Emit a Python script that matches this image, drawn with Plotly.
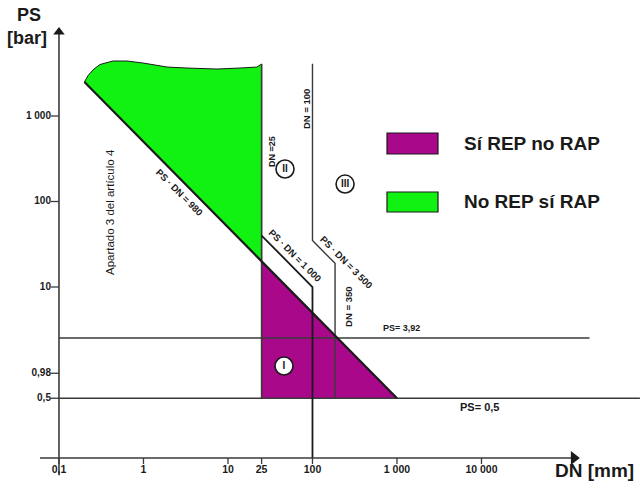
import numpy as np
import plotly.graph_objects as go

# ---------------- data (DN in mm, PS in bar) ----------------
dn_ticks = [0.1, 1, 10, 25, 100, 1000, 10000]
dn_tick_text = ["0,1", "1", "10", "25", "100", "1 000", "10 000"]
ps_ticks = [0.5, 0.98, 10, 100, 1000]
ps_tick_text = ["0,5", "0,98", "10", "100", "1 000"]

# Region "No REP sí RAP": wavy upper edge, then down the DN = 25 edge
green_dn = [0.2, 0.222, 0.26, 0.305, 0.435, 0.638, 0.986, 1.90, 3.27, 7.41, 13.9, 22.0, 25, 25]
green_ps = [2500, 3000, 3550, 4000, 4400, 4400, 4170, 3740, 3640, 3545, 3640, 3740, 4060, 20]

# Region "Sí REP no RAP"
magenta_dn = [25, 25, 1000]
magenta_ps = [20, 0.5, 0.5]

# Boundary lines
diag_dn = [0.2, 1000]
diag_ps = [2500, 0.5]
line1000_dn = [25, 100, 100]
line1000_ps = [40, 10, 0.1]
line3500_dn = [100, 100, 185, 185]
line3500_ps = [4100, 35, 18.9, 0.5]
dn25_dn = [25, 25]
dn25_ps = [4060, 0.5]
ps_mid_dn = [0.1, 1.9e5]
ps_mid_ps = [2.53, 2.53]
ps_low_dn = [0.1, 7.5e5]
ps_low_ps = [0.5, 0.5]

# Category markers (roman numerals in circles)
cat_dn = [46, 47.3, 243]
cat_ps = [1.19, 240, 160]
cat_text = ["I", "II", "III"]

GREEN = "#12F212"
MAGENTA = "#A9088A"
INK = "#1a1a1a"
LINE = "#3a3a3a"
FONT = "Arial, Liberation Sans, sans-serif"

X_RANGE = [-1.698, 5.876]
Y_RANGE = [-1.351, 4.357]


def lg(v):
    return float(np.log10(v))


fig = go.Figure()

# filled regions
fig.add_trace(go.Scatter(x=green_dn, y=green_ps, fill="toself", fillcolor=GREEN,
                         mode="lines", line=dict(color=INK, width=1), hoverinfo="skip"))
fig.add_trace(go.Scatter(x=magenta_dn, y=magenta_ps, fill="toself", fillcolor=MAGENTA,
                         mode="lines", line=dict(color=MAGENTA, width=0), hoverinfo="skip"))

# thin boundary lines
for xs, ys, w in [(ps_mid_dn, ps_mid_ps, 1.4), (ps_low_dn, ps_low_ps, 1.6),
                  (dn25_dn, dn25_ps, 1.6), (line3500_dn, line3500_ps, 1.4)]:
    fig.add_trace(go.Scatter(x=xs, y=ys, mode="lines",
                             line=dict(color=LINE, width=w), hoverinfo="skip"))

# heavier sloped boundaries
fig.add_trace(go.Scatter(x=diag_dn, y=diag_ps, mode="lines",
                         line=dict(color=INK, width=2.2), hoverinfo="skip"))
fig.add_trace(go.Scatter(x=line1000_dn, y=line1000_ps, mode="lines",
                         line=dict(color=INK, width=1.8), hoverinfo="skip"))

# axis lines
fig.add_trace(go.Scatter(x=[0.0596, 1.3e5], y=[0.1, 0.1], mode="lines",
                         line=dict(color=LINE, width=1.6), hoverinfo="skip"))
fig.add_trace(go.Scatter(x=[0.1, 0.1], y=[0.063, 9600], mode="lines",
                         line=dict(color=LINE, width=1.6), hoverinfo="skip"))
# arrow heads
fig.add_trace(go.Scatter(x=[1.24e5], y=[0.1], mode="markers",
                         marker=dict(symbol="triangle-right", size=12, color=INK),
                         hoverinfo="skip"))
fig.add_trace(go.Scatter(x=[0.1], y=[9600], mode="markers",
                         marker=dict(symbol="triangle-up", size=10, color=INK),
                         hoverinfo="skip"))

# tick marks
tx, ty = [], []
for v in dn_ticks:
    tx += [v, v, None]
    ty += [0.1, 0.085, None]
fig.add_trace(go.Scatter(x=tx, y=ty, mode="lines", line=dict(color=LINE, width=1.3),
                         hoverinfo="skip"))
sx, sy = [], []
for v in ps_ticks:
    sx += [0.0804, 0.1, None]
    sy += [v, v, None]
fig.add_trace(go.Scatter(x=sx, y=sy, mode="lines", line=dict(color=LINE, width=1.3),
                         hoverinfo="skip"))

# tick labels
fig.add_trace(go.Scatter(x=dn_ticks, y=[0.083] * len(dn_ticks), mode="text",
                         text=[f"<b>{t}</b>" for t in dn_tick_text],
                         textposition="bottom center",
                         textfont=dict(family=FONT, size=10.5, color=INK),
                         hoverinfo="skip"))
fig.add_trace(go.Scatter(x=[0.0804] * len(ps_ticks), y=ps_ticks, mode="text",
                         text=[f"<b>{t}</b>" for t in ps_tick_text],
                         textposition="middle left",
                         textfont=dict(family=FONT, size=10, color=INK),
                         hoverinfo="skip"))

# category circles
fig.add_trace(go.Scatter(x=cat_dn, y=cat_ps, mode="markers+text",
                         marker=dict(symbol="circle", size=18, color="white",
                                     line=dict(color=INK, width=1.6)),
                         text=[f"<b>{t}</b>" for t in cat_text],
                         textposition="middle center",
                         textfont=dict(family=FONT, size=10, color=INK),
                         hoverinfo="skip"))

annotations = []


def label(text, dn, ps, angle=0, size=9.5, bold=True):
    annotations.append(dict(
        x=lg(dn), y=lg(ps), xref="x", yref="y", showarrow=False,
        xanchor="center", yanchor="middle",
        text=f"<b>{text}</b>" if bold else text, textangle=angle,
        font=dict(family=FONT, size=size, color=INK)))


label("PS · DN = 980", 2.70, 129, angle=45)
label("PS · DN = 1 000", 62, 23.1, angle=45)
label("PS · DN = 3 500", 256, 19.6, angle=45)
label("DN =25", 33.2, 379, angle=-90, size=9)
label("DN = 100", 83.8, 1208, angle=-90)
label("DN = 350", 270, 5.84, angle=-90)
label("PS= 3,92", 1146, 3.31, size=9)
label("PS= 0,5", 9590, 0.395, size=11)
label("Apartado 3 del artículo 4", 0.402, 75.4, angle=-90, size=11.5, bold=False)

W, H = 640, 488


def px(x):
    return x / W


def py(y):
    return 1 - y / H


# axis titles
annotations.append(dict(x=px(29), y=py(15), xref="paper", yref="paper", showarrow=False,
                        xanchor="center", yanchor="middle",
                        text="<b>PS</b>", font=dict(family=FONT, size=18, color=INK)))
annotations.append(dict(x=px(27), y=py(38), xref="paper", yref="paper", showarrow=False,
                        xanchor="center", yanchor="middle",
                        text="<b>[bar]</b>", font=dict(family=FONT, size=18, color=INK)))
annotations.append(dict(x=px(553), y=py(470), xref="paper", yref="paper", showarrow=False,
                        xanchor="left", yanchor="middle", text="<b>DN [mm]</b>",
                        font=dict(family=FONT, size=19, color=INK)))

# legend entries
legend = [("Sí REP no RAP", MAGENTA, 133, 154), ("No REP sí RAP", GREEN, 192, 212)]
shapes = []
for name, col, y0, y1 in legend:
    shapes.append(dict(type="rect", xref="paper", yref="paper",
                       x0=px(387), x1=px(438), y0=py(y1), y1=py(y0),
                       fillcolor=col, line=dict(color=INK, width=1.2)))
    annotations.append(dict(x=px(462), y=py((y0 + y1) / 2), xref="paper", yref="paper",
                            xanchor="left", yanchor="middle", showarrow=False,
                            text=f"<b>{name}</b>",
                            font=dict(family=FONT, size=19, color=INK)))

fig.update_layout(
    width=W, height=H,
    margin=dict(l=0, r=0, t=0, b=0),
    paper_bgcolor="white", plot_bgcolor="white",
    showlegend=False,
    xaxis=dict(type="log", range=X_RANGE, visible=False, fixedrange=True),
    yaxis=dict(type="log", range=Y_RANGE, visible=False, fixedrange=True),
    annotations=annotations,
    shapes=shapes,
)

fig.write_html("out.html")
